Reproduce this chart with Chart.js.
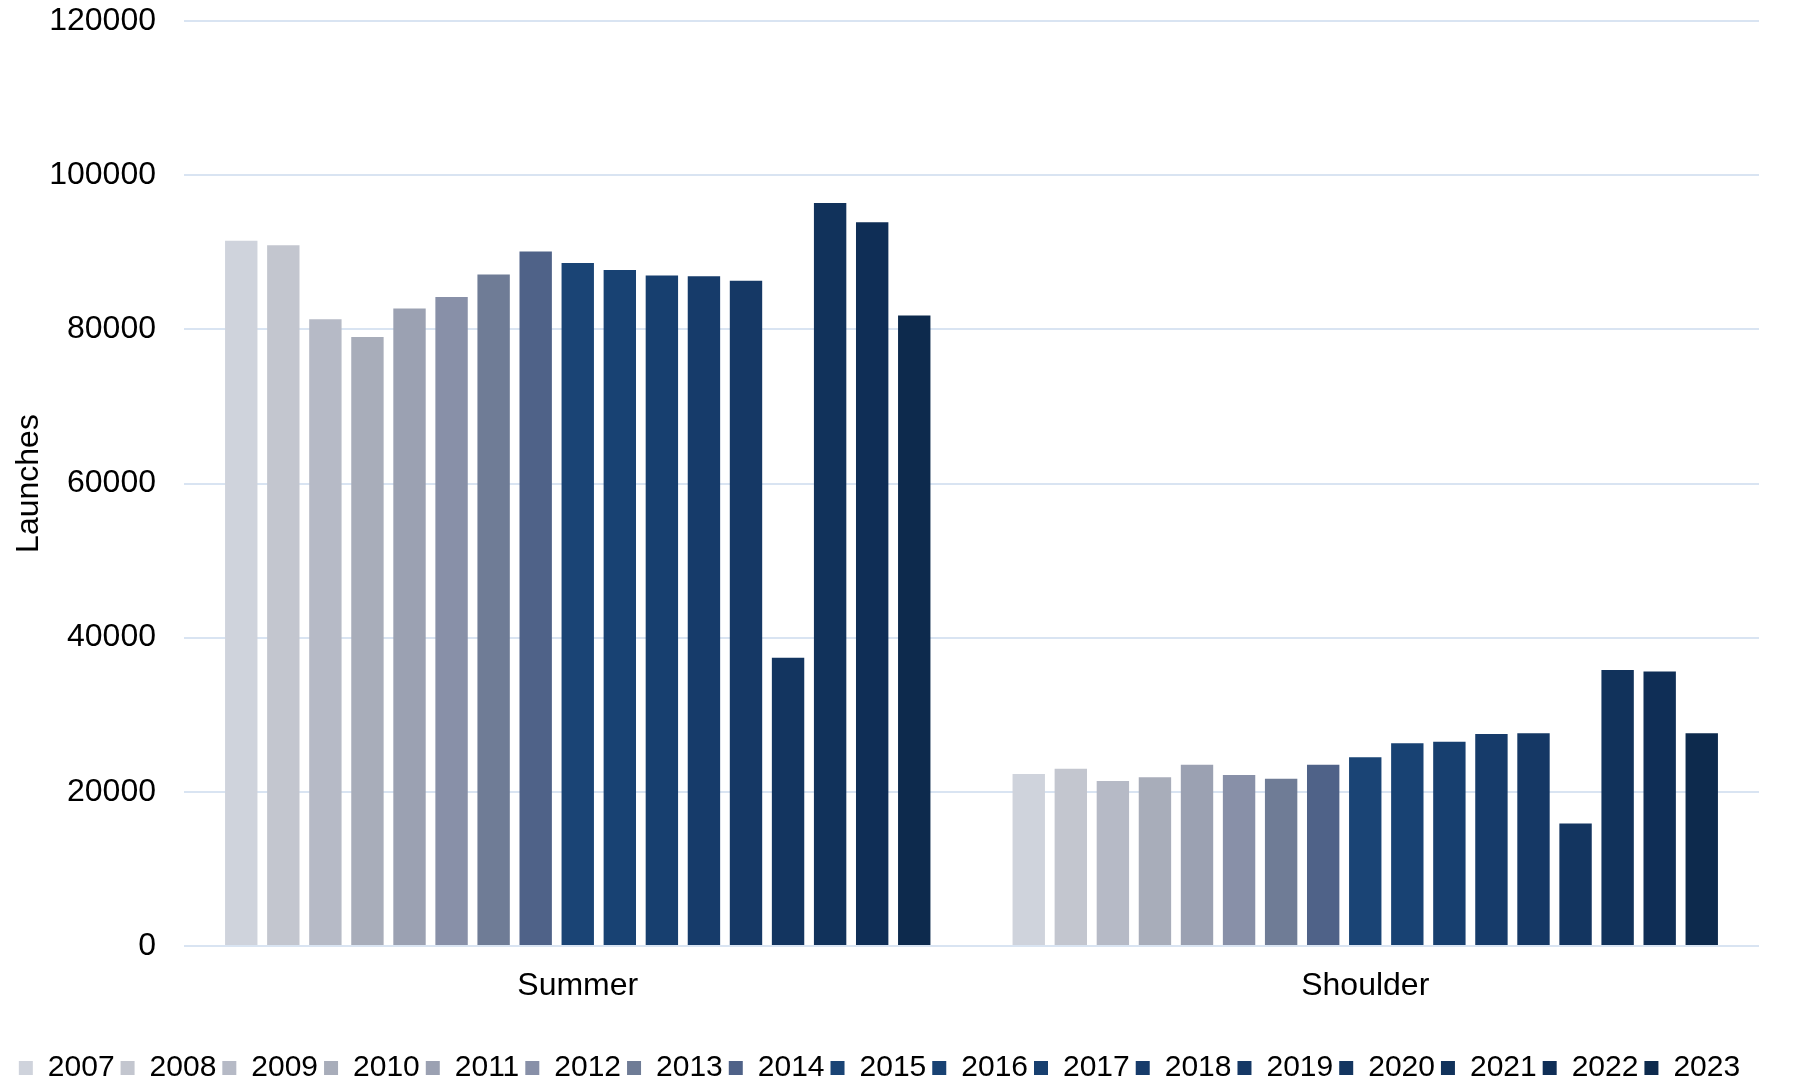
<!DOCTYPE html>
<html>
<head>
<meta charset="utf-8">
<script src="https://cdn.jsdelivr.net/npm/chart.js@4"></script>
<style>
  html, body { margin: 0; padding: 0; background: #fff; }
  #wrap { width: 1800px; height: 1084px; }
</style>
</head>
<body>
<div id="wrap"><canvas id="myChart"></canvas></div>
<script>
var seasons = ['Summer', 'Shoulder'];
var years = ['2007','2008','2009','2010','2011','2012','2013','2014','2015','2016','2017','2018','2019','2020','2021','2022','2023'];
// launches per year: [summer, shoulder]
var summer   = [91500, 90900, 81300, 79000, 82700, 84200, 87100, 90100, 88600, 87700, 87000, 86900, 86300, 37400, 96400, 93900, 81800];
var shoulder = [22300, 23000, 21400, 21900, 23500, 22200, 21700, 23500, 24500, 26300, 26500, 27500, 27600, 15900, 35800, 35600, 27600];
var colors = ['#cfd3dc','#c3c6cf','#b6bac6','#a8adba','#9ba1b2','#8890a8','#6f7c96','#4f6288','#1a4475','#184273','#173f6f','#163b6a','#153865','#133560','#11325b','#0f2e56','#0d2a4d'];
var yTicks = [0, 20000, 40000, 60000, 80000, 100000, 120000];

var sets = [];
for (var i = 0; i < years.length; i++) {
  sets.push({
    label: years[i],
    data: [summer[i], shoulder[i]],
    backgroundColor: colors[i],
    borderWidth: 0,
    barPercentage: 0.77,
    categoryPercentage: 0.908
  });
}

Chart.defaults.font.family = "'Liberation Sans', Arial, sans-serif";
Chart.defaults.color = '#000';

const ctx = document.getElementById('myChart').getContext('2d');
const myChart = new Chart(ctx, {
  type: 'bar',
  data: { labels: seasons, datasets: sets },
  options: {
    responsive: true,
    maintainAspectRatio: false,
    animation: false,
    layout: { padding: { top: 0, right: 41, left: 0, bottom: -9 } },
    plugins: {
      tooltip: { enabled: false },
      legend: {
        position: 'bottom',
        labels: {
          boxWidth: 14,
          boxHeight: 14,
          padding: 6,
          font: { size: 30 },
          color: '#000'
        }
      }
    },
    scales: {
      x: {
        grid: { display: false, drawTicks: false },
        border: { display: false },
        ticks: { font: { size: 32 }, padding: 21, color: '#000' },
        afterFit: function (s) { s.height = 101; }
      },
      y: {
        min: 0,
        max: 120000,
        afterBuildTicks: function (s) { s.ticks = yTicks.map(function (v) { return { value: v }; }); },
        grid: { color: '#d9e4f2', lineWidth: 2, drawTicks: false },
        border: { display: false },
        ticks: {
          font: { size: 32 }, padding: 28, color: '#000',
          callback: function (v) { return String(v); }
        },
        title: { display: true, text: 'Launches', font: { size: 32 }, color: '#000', padding: { top: 10, bottom: 0 } },
        afterFit: function (s) { s.width = 184; s.paddingTop = 21; s.paddingBottom = 0; }
      }
    }
  }
});
</script>
</body>
</html>
